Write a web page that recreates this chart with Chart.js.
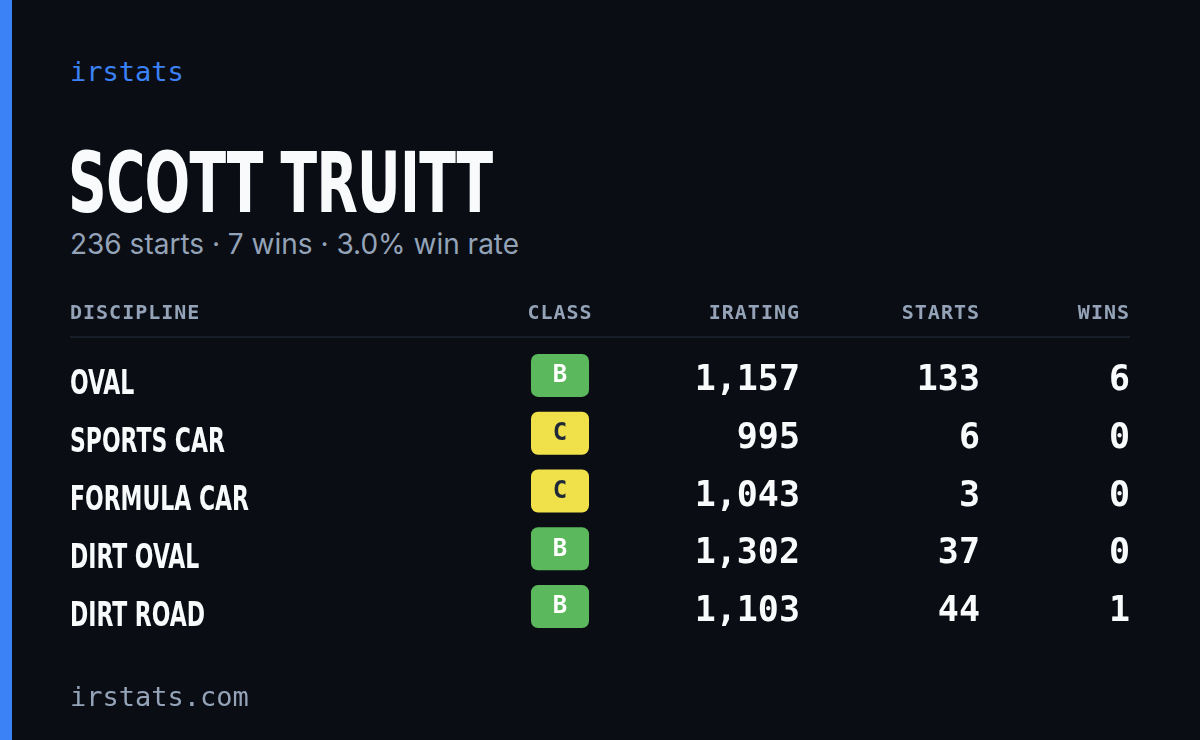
<!DOCTYPE html>
<html>
<head>
<meta charset="utf-8">
<script src="https://cdn.jsdelivr.net/npm/chart.js@4"></script>
<style>
  html, body { margin: 0; padding: 0; background: #0a0d14; }
  #card { position: relative; width: 1200px; height: 740px; overflow: hidden; background: #0a0d14; }
  #card .bar { position: absolute; left: 0; top: 0; width: 12px; height: 740px; background: #3b82f6; }
  .brand { position: absolute; left: 70px; top: 56px; font: 27px "DejaVu Sans Mono", monospace; color: #3b82f6; }
  .name { position: absolute; left: 68px; top: 134px; font: bold 84px "DejaVu Sans Condensed", sans-serif; color: #f8fafc; letter-spacing: -1px; transform: scaleX(0.71); transform-origin: left top; white-space: nowrap; }
  .sub { position: absolute; left: 70px; top: 227px; font: 28px Inter, "Noto Sans", sans-serif; color: #94a3b8; }
  .foot { position: absolute; left: 70px; top: 681px; font: 27px "DejaVu Sans Mono", monospace; color: #94a3b8; }
  canvas { position: absolute; left: 0; top: 0; }
</style>
</head>
<body>
<div id="card">
  <div class="bar"></div>
  <div class="brand">irstats</div>
  <div class="name">SCOTT TRUITT</div>
  <div class="sub">236 starts · 7 wins · 3.0% win rate</div>
  <canvas id="tbl" width="1200" height="740"></canvas>
  <div class="foot">irstats.com</div>
</div>
<script>
// ── Data ──────────────────────────────────────────────
const columns     = ['DISCIPLINE', 'CLASS', 'IRATING', 'STARTS', 'WINS'];
const disciplines = ['OVAL', 'SPORTS CAR', 'FORMULA CAR', 'DIRT OVAL', 'DIRT ROAD'];
const classes     = ['B', 'C', 'C', 'B', 'B'];
const iratings    = [1157, 995, 1043, 1302, 1103];
const starts      = [133, 6, 3, 37, 44];
const wins        = [6, 0, 0, 0, 1];

// ── Styling ───────────────────────────────────────────
const COL_X = { DISCIPLINE: 70, CLASS: 560, IRATING: 800, STARTS: 980, WINS: 1130 };
const COL_ALIGN = { DISCIPLINE: 'left', CLASS: 'center', IRATING: 'right', STARTS: 'right', WINS: 'right' };
const CLASS_COLORS = { A: '#3b82f6', B: '#5cb85c', C: '#f0e14a', D: '#f59e0b', R: '#ef4444' };
const MONO = '"DejaVu Sans Mono", monospace';
const NARROW = '"DejaVu Sans Condensed", sans-serif';

function roundRect(ctx, x, y, w, h, r) {
  ctx.beginPath();
  ctx.moveTo(x + r, y);
  ctx.arcTo(x + w, y, x + w, y + h, r);
  ctx.arcTo(x + w, y + h, x, y + h, r);
  ctx.arcTo(x, y + h, x, y, r);
  ctx.arcTo(x, y, x + w, y, r);
  ctx.closePath();
}

const tablePlugin = {
  id: 'statTable',
  afterDraw: function (chart) {
    const ctx = chart.ctx;
    const yScale = chart.scales.y;
    const area = chart.chartArea;
    ctx.save();

    // header
    ctx.font = 'bold 20px ' + MONO;
    ctx.fillStyle = '#94a3b8';
    ctx.textBaseline = 'middle';
    ctx.letterSpacing = '1px';
    columns.forEach(function (c) {
      ctx.textAlign = COL_ALIGN[c];
      ctx.fillText(c, COL_X[c], area.top - 37);
    });
    ctx.letterSpacing = '0px';
    ctx.strokeStyle = '#1e2430';
    ctx.lineWidth = 1.5;
    ctx.beginPath();
    ctx.moveTo(70, area.top - 14);
    ctx.lineTo(1130, area.top - 14);
    ctx.stroke();

    disciplines.forEach(function (d, i) {
      const y = yScale.getPixelForValue(i);

      // condensed discipline name
      ctx.save();
      ctx.translate(COL_X.DISCIPLINE, y + 6);
      ctx.scale(0.74, 1);
      ctx.font = 'bold 33px ' + NARROW;
      ctx.fillStyle = '#f8fafc';
      ctx.textAlign = 'left';
      ctx.fillText(d, 0, 0);
      ctx.restore();

      const cls = classes[i];
      ctx.fillStyle = CLASS_COLORS[cls];
      roundRect(ctx, COL_X.CLASS - 29, y - 26, 58, 43, 7);
      ctx.fill();
      ctx.font = 'bold 24px ' + MONO;
      ctx.fillStyle = cls === 'C' ? '#1f2937' : '#ffffff';
      ctx.textAlign = 'center';
      ctx.fillText(cls, COL_X.CLASS, y - 4);

      ctx.font = 'bold 35px ' + MONO;
      ctx.fillStyle = '#f8fafc';
      ctx.textAlign = 'right';
      ctx.fillText(iratings[i].toLocaleString('en-US'), COL_X.IRATING, y + 1);
      ctx.fillText(String(starts[i]), COL_X.STARTS, y + 1);
      ctx.fillText(String(wins[i]), COL_X.WINS, y + 1);
    });
    ctx.restore();
  }
};

new Chart(document.getElementById('tbl').getContext('2d'), {
  type: 'scatter',
  data: { labels: disciplines, datasets: [] },
  options: {
    responsive: false,
    animation: false,
    devicePixelRatio: 1,
    layout: { padding: { top: 351, bottom: 100, left: 70, right: 70 } },
    plugins: { legend: { display: false }, tooltip: { enabled: false } },
    scales: {
      x: { type: 'linear', min: 0, max: 1, display: false },
      y: { type: 'category', labels: disciplines, offset: true, display: false }
    }
  },
  plugins: [tablePlugin]
});
</script>
</body>
</html>
